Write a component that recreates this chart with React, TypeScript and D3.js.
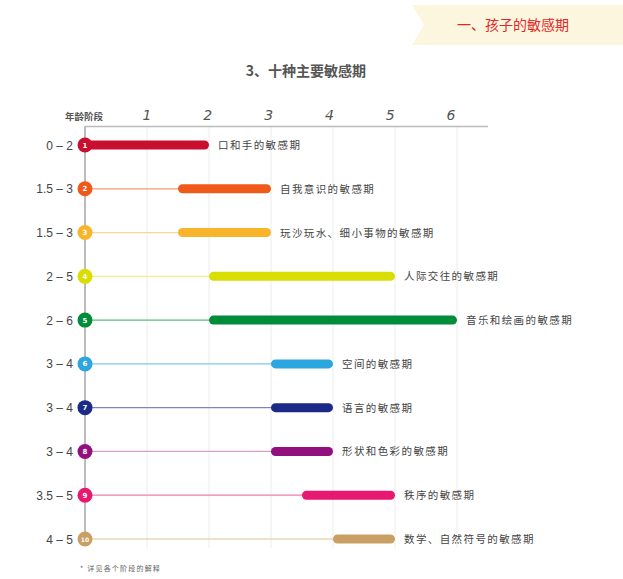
import React from "react";
import * as d3 from "d3";

// the ten sensitive periods
const periodNames = [
  "口和手的敏感期",
  "自我意识的敏感期",
  "玩沙玩水、细小事物的敏感期",
  "人际交往的敏感期",
  "音乐和绘画的敏感期",
  "空间的敏感期",
  "语言的敏感期",
  "形状和色彩的敏感期",
  "秩序的敏感期",
  "数学、自然符号的敏感期",
];
const startAges = [0, 1.5, 1.5, 2, 2, 3, 3, 3, 3.5, 4];
const endAges = [2, 3, 3, 5, 6, 4, 4, 4, 5, 5];
const ageLabels = ["0 – 2", "1.5 – 3", "1.5 – 3", "2 – 5", "2 – 6", "3 – 4", "3 – 4", "3 – 4", "3.5 – 5", "4 – 5"];
const barColors = ["#c8102e", "#ef5a1b", "#f8b52c", "#dadd00", "#008c3a", "#2ba6df", "#1b2a86", "#920f7e", "#e8176f", "#c99f63"];
const stemColors = ["#d8707c", "#f39a73", "#fbd692", "#f0f08a", "#5cbc7c", "#7ccaee", "#7b84bf", "#d2a0cf", "#ee7fa9", "#dcc39d"];
const xTicks = [1, 2, 3, 4, 5, 6];

const App = () => {
  const svgRef = React.useRef(null);
  const width = 623;
  const height = 579;

  React.useEffect(() => {
    const x = d3.scaleLinear().domain([0, 6]).range([85, 457]);
    // tick labels sit a little left of their grid lines
    const xLabel = d3.scaleLinear().domain([1, 6]).range([147, 451]);
    const y = d3.scalePoint().domain(d3.range(10).map(String)).range([145, 539]);
    const font = "'Noto Sans CJK SC', 'Noto Sans', sans-serif";

    const svgEl = d3.select(svgRef.current);
    svgEl.selectAll("*").remove();

    // banner top right
    svgEl.append("path")
      .attr("d", "M412,5 L623,5 L623,45 L412,45 L424,25 Z")
      .attr("fill", "#fcf6de");
    svgEl.append("text")
      .attr("x", 513).attr("y", 30)
      .attr("text-anchor", "middle")
      .attr("font-family", font)
      .attr("font-size", 14)
      .attr("fill", "#e3262a")
      .text("一、孩子的敏感期");

    // title
    svgEl.append("text")
      .attr("x", 306).attr("y", 76)
      .attr("text-anchor", "middle")
      .attr("font-family", font)
      .attr("font-size", 14)
      .attr("font-weight", "bold")
      .attr("fill", "#555")
      .text("3、十种主要敏感期");

    // grid lines
    svgEl.append("g").selectAll("line")
      .data(xTicks)
      .enter().append("line")
      .attr("x1", (d) => x(d)).attr("x2", (d) => x(d))
      .attr("y1", 127).attr("y2", 548)
      .attr("stroke", "#ececec").attr("stroke-width", 1);

    // top axis
    svgEl.append("line")
      .attr("x1", 85).attr("x2", 488).attr("y1", 126.5).attr("y2", 126.5)
      .attr("stroke", "#bbb").attr("stroke-width", 1.5);
    svgEl.append("g").selectAll("text")
      .data(xTicks)
      .enter().append("text")
      .attr("x", (d) => xLabel(d)).attr("y", 120)
      .attr("text-anchor", "middle")
      .attr("font-family", "'DejaVu Sans', sans-serif")
      .attr("font-style", "italic")
      .attr("font-size", 14)
      .attr("fill", "#555")
      .text((d) => d);
    svgEl.append("text")
      .attr("x", 84).attr("y", 120)
      .attr("text-anchor", "middle")
      .attr("font-family", font)
      .attr("font-size", 9.5)
      .attr("font-weight", "bold")
      .attr("fill", "#555")
      .text("年龄阶段");

    // left axis
    svgEl.append("line")
      .attr("x1", 85).attr("x2", 85).attr("y1", 126).attr("y2", 540)
      .attr("stroke", "#bbb").attr("stroke-width", 2);

    const rows = svgEl.append("g").selectAll("g")
      .data(d3.range(10))
      .enter().append("g")
      .attr("transform", (i) => `translate(0,${y(String(i))})`);

    rows.append("line")
      .attr("x1", 85).attr("x2", (i) => x(startAges[i]) + 4)
      .attr("stroke", (i) => stemColors[i]).attr("stroke-width", 1.2);

    rows.append("rect")
      .attr("x", (i) => x(startAges[i]))
      .attr("y", -4.5)
      .attr("width", (i) => x(endAges[i]) - x(startAges[i]))
      .attr("height", 9)
      .attr("rx", 4.5)
      .attr("fill", (i) => barColors[i]);

    rows.append("circle")
      .attr("cx", 85).attr("r", 7.5)
      .attr("fill", (i) => barColors[i]);
    rows.append("text")
      .attr("x", 85).attr("y", 2.5)
      .attr("text-anchor", "middle")
      .attr("font-family", "'DejaVu Sans', sans-serif")
      .attr("font-size", (i) => (i === 9 ? 6 : 7))
      .attr("font-weight", "bold")
      .attr("fill", "#fff")
      .text((i) => i + 1);

    rows.append("text")
      .attr("x", 73).attr("y", 4.5)
      .attr("text-anchor", "end")
      .attr("font-family", "'Liberation Sans', Arial, sans-serif")
      .attr("font-size", 12)
      .attr("fill", "#444")
      .text((i) => ageLabels[i]);

    rows.append("text")
      .attr("x", (i) => x(endAges[i]) + 9).attr("y", 4)
      .attr("font-family", font)
      .attr("font-size", 10.5)
      .attr("letter-spacing", 1.4)
      .attr("fill", "#444")
      .text((i) => periodNames[i]);

    // footnote
    svgEl.append("text")
      .attr("x", 80).attr("y", 571)
      .attr("font-family", font)
      .attr("font-size", 7)
      .attr("letter-spacing", 1.2)
      .attr("fill", "#666")
      .text("*  详见各个阶段的解释");
  }, []);

  return <svg ref={svgRef} width={width} height={height} style={{ position: "absolute", left: 0, top: 0 }} />;
};

export default App;
